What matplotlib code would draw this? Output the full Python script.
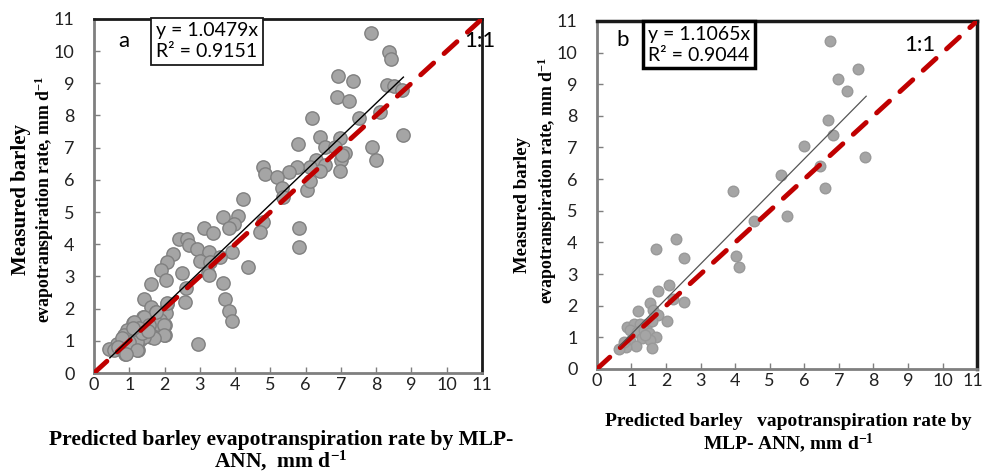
import numpy as np
from matplotlib import pyplot as plt
from matplotlib import transforms

plt.rcParams['mathtext.fontset'] = 'custom'
plt.rcParams['mathtext.rm'] = 'Liberation Serif'
plt.rcParams['mathtext.bf'] = 'Liberation Serif:bold'

# panel a: predicted vs measured (mm/d)
a_pred = [7.85, 8.37, 8.42, 6.91, 7.33, 6.88, 7.22, 8.30, 8.49, 8.72, 8.11, 6.17, 7.52, 8.75,
          6.41, 6.96, 6.55, 5.79, 6.83, 7.12, 7.87, 7.99, 6.99, 6.96, 7.02, 6.29, 6.55, 6.41,
          6.12, 4.78, 4.85, 5.75, 5.53, 5.20, 5.32, 6.03, 6.12, 5.37, 4.22, 4.07, 3.67, 3.97,
          3.84, 4.78, 4.71, 5.82, 5.82, 3.12, 3.36, 2.42, 2.65, 2.68, 2.93, 3.27, 2.25, 3.01,
          3.90, 3.57, 3.29, 2.06, 1.90, 4.38, 3.24, 3.27, 2.49, 2.04, 3.65, 1.61, 2.61, 2.58,
          3.70, 3.84, 3.91, 1.42, 2.08, 1.63, 1.76, 2.04, 1.40, 1.87, 2.01, 1.12, 0.93, 1.63,
          2.01, 1.62, 1.40, 1.21, 0.83, 0.64, 0.43, 0.57, 0.88, 1.26, 1.02, 1.19, 2.96, 1.30,
          1.49, 1.78, 0.91, 1.75, 2.06, 1.42, 1.13, 1.56, 1.98, 1.28, 1.61, 0.85, 1.98, 1.70,
          1.42, 1.21, 0.99, 0.80, 0.68, 1.23, 0.90, 1.35, 1.10, 1.52]
a_meas = [10.55, 9.98, 9.75, 9.23, 9.08, 8.58, 8.46, 8.95, 8.92, 8.79, 8.12, 7.93, 7.93, 7.39,
          7.32, 7.31, 7.03, 7.10, 7.03, 6.84, 7.03, 6.61, 6.61, 6.27, 6.77, 6.61, 6.46, 6.28,
          6.41, 6.41, 6.17, 6.41, 6.25, 6.10, 5.75, 5.68, 5.97, 5.47, 5.42, 4.87, 4.85, 4.62,
          4.49, 4.70, 4.39, 4.51, 3.90, 4.49, 4.35, 4.15, 4.15, 3.99, 3.84, 3.76, 3.71, 3.47,
          3.76, 3.59, 3.45, 3.45, 3.19, 3.28, 3.11, 3.03, 3.11, 2.88, 2.81, 2.75, 2.65, 2.21,
          2.29, 1.92, 1.62, 2.31, 2.14, 2.05, 1.90, 1.85, 1.74, 1.64, 1.48, 1.56, 1.35, 1.33,
          1.17, 1.12, 1.22, 1.12, 1.10, 0.91, 0.75, 0.73, 0.58, 0.71, 0.91, 0.93, 0.89, 1.02,
          1.22, 1.53, 0.91, 1.91, 2.17, 1.75, 1.58, 1.49, 1.49, 1.39, 1.18, 1.18, 1.18, 1.08,
          1.13, 0.97, 0.97, 1.08, 0.82, 0.72, 0.58, 1.25, 1.40, 1.30]

# panel b
b_pred = [6.73, 7.55, 6.97, 7.23, 6.68, 6.82, 6.00, 7.76, 6.44, 5.33, 6.60, 3.95, 5.49, 4.55,
          2.29, 1.70, 2.53, 4.03, 4.10, 2.08, 1.78, 2.21, 2.53, 1.55, 1.20, 1.63, 1.78, 2.04,
          0.87, 1.06, 1.25, 1.45, 0.97, 1.16, 1.35, 1.50, 1.72, 1.30, 0.97, 1.54, 1.14, 0.85,
          0.63, 1.59, 1.40, 0.77, 1.59]
b_meas = [10.38, 9.48, 9.17, 8.80, 7.87, 7.40, 7.05, 6.71, 6.43, 6.13, 5.71, 5.64, 4.85, 4.69,
          4.10, 3.78, 3.52, 3.57, 3.23, 2.66, 2.47, 2.20, 2.13, 2.10, 1.84, 1.87, 1.71, 1.52,
          1.32, 1.42, 1.42, 1.42, 1.23, 1.18, 1.23, 1.13, 1.00, 0.97, 0.90, 0.92, 0.73, 0.71,
          0.64, 0.67, 1.07, 0.86, 1.52]

slope_a, r2_a = 1.0479, 0.9151
slope_b, r2_b = 1.1065, 0.9044
ticks = list(range(12))

tickfont = 'Lato'
serif = 'Liberation Serif'
boxfont = 'Lato'

fig = plt.figure(figsize=(9.85, 4.71), dpi=100)
ax1 = fig.add_axes([0.0954, 0.208, 0.394, 0.752])
ax2 = fig.add_axes([0.606, 0.2166, 0.386, 0.739])


def style(ax, lw_frame):
    ax.set_xlim(0, 11)
    ax.set_ylim(0, 11)
    ax.set_xticks(ticks)
    ax.set_yticks(ticks)
    ax.set_xticklabels(ticks, family=tickfont, fontsize=13, color='#222222')
    ax.set_yticklabels(ticks, family=tickfont, fontsize=13, color='#222222')
    ax.tick_params(direction='in', length=4, color='#7f7f7f', width=1)
    ax.tick_params(axis='y', pad=14)
    ax.tick_params(axis='x', pad=3)
    for s in ['left', 'bottom']:
        ax.spines[s].set_color('#7f7f7f')
        ax.spines[s].set_linewidth(2)
    for s in ['top', 'right']:
        ax.spines[s].set_color('#1a1a1a')
        ax.spines[s].set_linewidth(lw_frame)


# panel a
ax1.plot([0, 11], [0, 11], color='#c00000', lw=3.5, dashes=(3.6, 2.9),
         dash_capstyle='round', zorder=3)
ax1.scatter(a_pred, a_meas, s=92, c='#a5a5a5', edgecolors='#808080', linewidths=1, zorder=2)
xa = np.array([0.45, 8.77])
ax1.plot(xa, slope_a * xa, color='black', lw=1, zorder=4)
style(ax1, 2)
ax1.text(0.7, 10.3, 'a', fontsize=16, family=boxfont, va='center')
ax1.text(10.5, 10.3, '1:1', fontsize=16, family=boxfont, va='center', clip_on=False)
ax1.text(0.16, 0.99, f'y = {slope_a}x\nR² = {r2_a}', transform=ax1.transAxes,
         fontsize=14, family=boxfont, va='top', ha='left', linespacing=1.25,
         bbox=dict(boxstyle='square,pad=0.25', fc='white', ec='#1a1a1a', lw=1.3), zorder=5)

# panel b
ax2.plot([0, 11], [0, 11], color='#c00000', lw=3.5, dashes=(3.6, 2.9),
         dash_capstyle='round', zorder=3)
ax2.scatter(b_pred, b_meas, s=58, c='#a5a5a5', edgecolors='#999999', linewidths=1, zorder=2)
xb = np.array([0.65, 7.79])
ax2.plot(xb, slope_b * xb, color='#555555', lw=0.9, zorder=4)
style(ax2, 2.5)
# keep the last x label inside the figure edge
last = ax2.get_xticklabels()[-1]
last.set_ha('right')
last.set_transform(last.get_transform() + transforms.ScaledTranslation(6 / 100, 0, fig.dpi_scale_trans))
ax2.text(0.55, 10.4, 'b', fontsize=16, family=boxfont, va='center')
ax2.text(8.9, 10.24, '1:1', fontsize=16, family=boxfont, va='center')
ax2.text(0.135, 0.985, f'y = {slope_b}x\nR² = {r2_b}', transform=ax2.transAxes,
         fontsize=14, family=boxfont, va='top', ha='left', linespacing=1.25,
         bbox=dict(boxstyle='square,pad=0.25', fc='white', ec='black', lw=2.5), zorder=5)

# axis titles, drawn line by line
lab = dict(family=serif, fontweight='bold', ha='center', va='center')
ylab1 = 'Measured barley'
ylab2 = 'evapotranspiration rate, mm d$\\mathbf{^{-1}}$'
fig.text(0.021, 0.577, ylab1, rotation=90, fontsize=15, **lab)
fig.text(0.045, 0.578, ylab2, rotation=90, fontsize=12.8, **lab)
fig.text(0.530, 0.565, ylab1, rotation=90, fontsize=13.5, **lab)
fig.text(0.556, 0.618, ylab2, rotation=90, fontsize=12.8, **lab)

fig.text(0.285, 0.066, 'Predicted barley evapotranspiration rate by MLP-', fontsize=15.5, **lab)
fig.text(0.285, 0.022, 'ANN,  mm d$\\mathbf{^{-1}}$', fontsize=15.5, **lab)
fig.text(0.800, 0.106, 'Predicted barley   vapotranspiration rate by', fontsize=14, **lab)
fig.text(0.800, 0.059, 'MLP- ANN, mm d$\\mathbf{^{-1}}$', fontsize=14, **lab)

fig.savefig('out.png', dpi=100)
